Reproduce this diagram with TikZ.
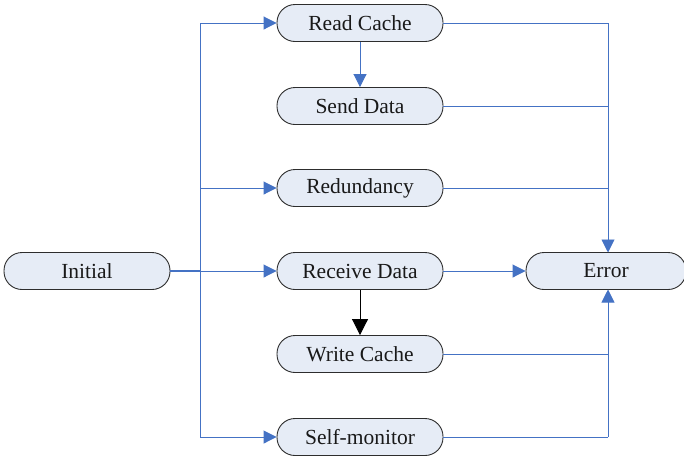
\documentclass[tikz,border=0pt]{standalone}
\usepackage{fontspec}
\setmainfont{Liberation Serif}
\usetikzlibrary{arrows.meta}
\definecolor{flowblue}{RGB}{68,114,196}
\definecolor{boxfill}{RGB}{230,236,246}
\definecolor{boxedge}{RGB}{45,45,45}
\begin{document}
\begin{tikzpicture}[x=1pt,y=-1pt,
  state/.style={draw=boxedge, line width=0.9pt, fill=boxfill, rounded corners=18pt,
    minimum width=166pt, minimum height=37pt, inner sep=0pt,
    font=\fontsize{21.5}{25}\selectfont, text=black!90},
  link/.style={draw=flowblue, line width=0.9pt},
  arr/.style={link, -{Triangle[length=13pt,width=13pt]}}
]
\useasboundingbox (0,0) rectangle (684,456);

% states
\node[state] (init) at (87,271) {Initial};
\node[state] (read) at (360,23) {Read Cache};
\node[state] (send) at (360,106) {Send Data};
\node[state] (red)  at (360,188) {Redundancy};
\node[state] (recv) at (360,271) {Receive Data};
\node[state] (write) at (360,354) {Write Cache};
\node[state] (self) at (360,437) {Self-monitor};
\node[state, minimum width=160pt] (err) at (606,271) {Error};

% distribution bus from Initial
\coordinate (bus) at (200,271);
\coordinate (bustop) at (200,23);
\coordinate (busbot) at (200,437);
\draw[link, line width=1.8pt] (init.east) -- (bus);
\draw[link] (bustop) -- (busbot);
\draw[arr] (bustop) -- (read.west);
\draw[arr] (200,188) -- (red.west);
\draw[arr] (bus) -- (recv.west);
\draw[arr] (busbot) -- (self.west);

% internal transitions
\draw[arr] (read) -- (send);
\draw[draw=black, line width=0.9pt, -{Triangle[length=16pt,width=16pt]}] (recv) -- (write);

% error collection
\coordinate (ecol) at (608,23);
\coordinate (ebot) at (608,437);
\draw[link] (read.east) -- (ecol);
\draw[arr] (ecol) -- (608,252.5);
\draw[link] (send.east) -- (608,106);
\draw[link] (red.east) -- (608,188);
\draw[arr] (recv.east) -- (err.west);
\draw[link] (write.east) -- (608,354);
\draw[link] (self.east) -- (ebot);
\draw[arr] (ebot) -- (608,289.5);
\end{tikzpicture}
\end{document}
